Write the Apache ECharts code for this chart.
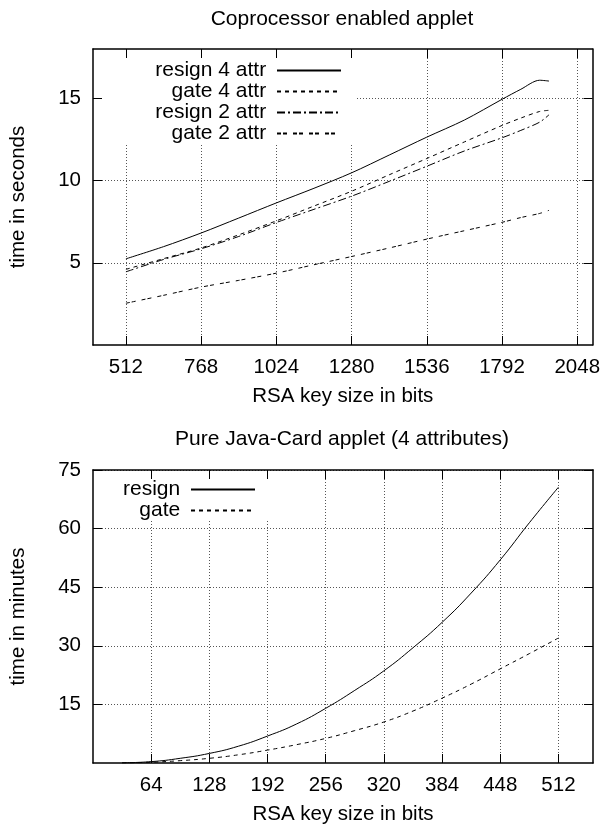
<!DOCTYPE html>
<html><head><meta charset="utf-8">
<script src="https://cdn.jsdelivr.net/npm/echarts@6/dist/echarts.min.js"></script>
<style>html,body{margin:0;padding:0;background:#fff}#c{width:603px;height:826px}</style>
</head><body><div id="c"></div><script>
// ---- Chart 1: Coprocessor enabled applet ----
const keyBits1 = [512, 640, 768, 896, 1024, 1152, 1280, 1408, 1536, 1664, 1792, 1856, 1920, 1952];
const resign4 = [5.24, 5.98, 6.81, 7.72, 8.64, 9.53, 10.47, 11.55, 12.64, 13.68, 14.94, 15.55, 16.10, 16.05];
const gate4   = [4.60, 5.25, 5.90, 6.70, 7.55, 8.45, 9.35, 10.35, 11.34, 12.35, 13.35, 13.80, 14.20, 14.27];
const resign2 = [4.45, 5.20, 5.85, 6.60, 7.45, 8.25, 9.05, 9.95, 10.87, 11.80, 12.60, 13.05, 13.55, 14.00];
const gate2   = [2.54, 3.02, 3.52, 3.93, 4.37, 4.88, 5.38, 5.90, 6.44, 6.95, 7.46, 7.75, 8.00, 8.19];
const xTicks1 = [512, 768, 1024, 1280, 1536, 1792, 2048];
const yTicks1 = [5, 10, 15];

// ---- Chart 2: Pure Java-Card applet ----
const keyBits2 = [32, 64, 96, 128, 160, 192, 224, 256, 288, 320, 352, 384, 416, 448, 480, 512];
const resignJC = [0.05, 0.35, 1.2, 2.45, 4.3, 6.9, 10.0, 14.0, 18.6, 23.6, 29.5, 36.0, 43.5, 52.0, 61.5, 70.6];
const gateJC   = [0.03, 0.2, 0.6, 1.2, 2.1, 3.3, 4.7, 6.3, 8.3, 10.5, 13.3, 16.6, 20.2, 24.1, 28.0, 32.0];
const xTicks2 = [64, 128, 192, 256, 320, 384, 448, 512];
const yTicks2 = [15, 30, 45, 60, 75];

const F = "'Liberation Sans', Arial, sans-serif";
const TXT = {color: '#000', fontFamily: F, fontSize: 20.5};
const gridLine = {show: true, lineStyle: {color: '#555', type: [1, 2], width: 1}};
const border = {show: true, onZero: false, lineStyle: {color: '#000', width: 1.5}};
const plain = v => String(v);

function pairs(xs, ys) { return xs.map((x, i) => [x, ys[i]]); }

function xAxes(g, min, max, ticks, name) {
  return [
    {type: 'value', gridIndex: g, position: 'bottom', min, max, z: 0,
     name, nameLocation: 'middle', nameGap: 41, nameTextStyle: TXT,
     axisLine: border,
     axisTick: {show: true, inside: true, length: 9, customValues: ticks, lineStyle: {color: '#000', width: 1}},
     axisLabel: {show: true, customValues: ticks, margin: 11.5, formatter: plain, ...TXT},
     splitLine: gridLine},
    {type: 'value', gridIndex: g, position: 'top', min, max, z: 10,
     axisLine: border,
     axisTick: {show: true, inside: true, length: 9, customValues: ticks, lineStyle: {color: '#000', width: 1}},
     axisLabel: {show: false}, splitLine: {show: false}}
  ];
}
function yAxes(g, min, max, ticks, name) {
  return [
    {type: 'value', gridIndex: g, position: 'left', min, max, z: 10,
     name, nameLocation: 'middle', nameGap: 64, nameTextStyle: TXT,
     axisLine: border,
     axisTick: {show: true, inside: true, length: 9, customValues: ticks, lineStyle: {color: '#000', width: 1}},
     axisLabel: {show: true, customValues: ticks, margin: 12, formatter: plain, ...TXT},
     splitLine: {show: false}},
    {type: 'value', gridIndex: g, position: 'right', min, max, z: 0,
     axisLine: border,
     axisTick: {show: true, inside: true, length: 9, customValues: ticks, lineStyle: {color: '#000', width: 1}},
     axisLabel: {show: false}, splitLine: gridLine}
  ];
}
function line(name, xi, yi, data, dash, smooth) {
  return {name, type: 'line', xAxisIndex: xi, yAxisIndex: yi, data, symbol: 'none', showSymbol: false,
    smooth, lineStyle: {color: '#000', width: 1, type: dash}, itemStyle: {color: '#000'}, z: 2};
}
function legend(names, right, top) {
  return {z: 6, orient: 'vertical', align: 'right', right, top, padding: 0,
    itemWidth: 64, itemHeight: 20.4, itemGap: 0, data: names, selectedMode: false,
    formatter: n => n + ' ',
    textStyle: {color: '#000', fontFamily: F, fontSize: 21, lineHeight: 20.4},
    itemStyle: {opacity: 0}};
}
const titleStyle = {color: '#000', fontFamily: F, fontSize: 21, fontWeight: 'normal'};

const option = {
  animation: false,
  backgroundColor: '#fff',
  title: [
    {text: 'Coprocessor enabled applet', left: 342, top: 9, textAlign: 'center', padding: 0, textStyle: titleStyle},
    {text: 'Pure Java-Card applet (4 attributes)', left: 342, top: 429, textAlign: 'center', padding: 0, textStyle: titleStyle}
  ],
  grid: [
    {left: 92, right: 10, top: 49, height: 296},
    {left: 92, right: 10, top: 470, height: 294}
  ],
  xAxis: [
    ...xAxes(0, 400, 2100, xTicks1, 'RSA key size in bits'),
    ...xAxes(1, 0, 550, xTicks2, 'RSA key size in bits')
  ],
  yAxis: [
    ...yAxes(0, 0, 18, yTicks1, 'time in seconds'),
    ...yAxes(1, 0, 75, yTicks2, 'time in minutes')
  ],
  legend: [
    legend(['resign 4 attr', 'gate 4 attr', 'resign 2 attr', 'gate 2 attr'], 261, 60),
    legend(['resign', 'gate'], 347, 479)
  ],
  graphic: [
    {type: 'rect', z: 5, silent: true, shape: {x: 94, y: 51, width: 261, height: 92}, style: {fill: '#fff'}},
    {type: 'rect', z: 5, silent: true, shape: {x: 94, y: 472, width: 176, height: 49}, style: {fill: '#fff'}}
  ],
  series: [
    line('resign 4 attr', 0, 0, pairs(keyBits1, resign4), 'solid', 0.3),
    line('gate 4 attr', 0, 0, pairs(keyBits1, gate4), [4, 4], 0.3),
    line('resign 2 attr', 0, 0, pairs(keyBits1, resign2), [8, 3, 2, 3], 0.3),
    line('gate 2 attr', 0, 0, pairs(keyBits1, gate2), [4, 2, 4, 6], 0.3),
    line('resign', 2, 2, pairs(keyBits2, resignJC), 'solid', 0.5),
    line('gate', 2, 2, pairs(keyBits2, gateJC), [4, 4], 0.5)
  ]
};
const chart = echarts.init(document.getElementById('c'), null, {renderer: 'canvas'});
chart.setOption(option);
</script></body></html>
